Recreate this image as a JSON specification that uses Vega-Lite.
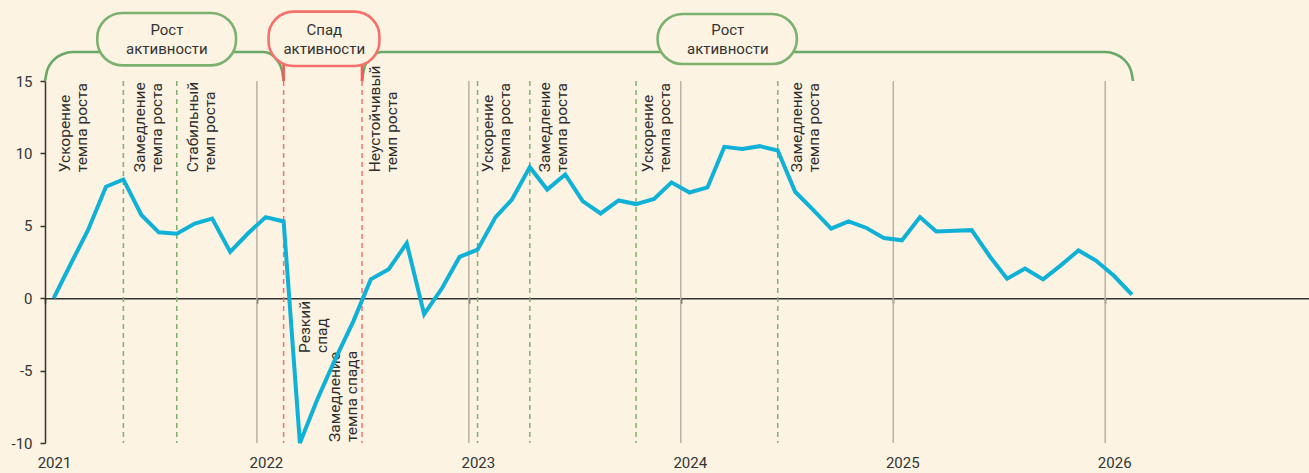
{
  "$schema": "https://vega.github.io/schema/vega-lite/v6.json",
  "width": 1264,
  "height": 362,
  "autosize": {"type": "none"},
  "padding": {"left": 45, "top": 81, "right": 0, "bottom": 30},
  "background": "#fdf3e2",
  "config": {"view": {"stroke": null}, "font": "Roboto"},
  "datasets": {
    "series": [
      {"d": "2021-01-16", "v": 0.0}, {"d": "2021-02-16", "v": 2.5}, {"d": "2021-03-16", "v": 4.7},
      {"d": "2021-04-16", "v": 7.7}, {"d": "2021-05-16", "v": 8.2}, {"d": "2021-06-16", "v": 5.75},
      {"d": "2021-07-16", "v": 4.55}, {"d": "2021-08-16", "v": 4.45}, {"d": "2021-09-16", "v": 5.15},
      {"d": "2021-10-16", "v": 5.5}, {"d": "2021-11-16", "v": 3.2}, {"d": "2021-12-16", "v": 4.45},
      {"d": "2022-01-16", "v": 5.6}, {"d": "2022-02-16", "v": 5.3}, {"d": "2022-03-16", "v": -10.0},
      {"d": "2022-04-16", "v": -6.9}, {"d": "2022-05-16", "v": -4.2}, {"d": "2022-06-16", "v": -1.6},
      {"d": "2022-07-16", "v": 1.3}, {"d": "2022-08-16", "v": 2.0}, {"d": "2022-09-16", "v": 3.8},
      {"d": "2022-10-16", "v": -1.1}, {"d": "2022-11-16", "v": 0.7}, {"d": "2022-12-16", "v": 2.85},
      {"d": "2023-01-16", "v": 3.35}, {"d": "2023-02-16", "v": 5.6}, {"d": "2023-03-16", "v": 6.8},
      {"d": "2023-04-16", "v": 9.05}, {"d": "2023-05-16", "v": 7.5}, {"d": "2023-06-16", "v": 8.55},
      {"d": "2023-07-16", "v": 6.7}, {"d": "2023-08-16", "v": 5.85}, {"d": "2023-09-16", "v": 6.75},
      {"d": "2023-10-16", "v": 6.5}, {"d": "2023-11-16", "v": 6.85}, {"d": "2023-12-16", "v": 8.0},
      {"d": "2024-01-16", "v": 7.3}, {"d": "2024-02-16", "v": 7.65}, {"d": "2024-03-16", "v": 10.45},
      {"d": "2024-04-16", "v": 10.3}, {"d": "2024-05-16", "v": 10.5}, {"d": "2024-06-16", "v": 10.2},
      {"d": "2024-07-16", "v": 7.35}, {"d": "2024-08-16", "v": 6.1}, {"d": "2024-09-16", "v": 4.8},
      {"d": "2024-10-16", "v": 5.3}, {"d": "2024-11-16", "v": 4.85}, {"d": "2024-12-16", "v": 4.15},
      {"d": "2025-01-16", "v": 4.0}, {"d": "2025-02-16", "v": 5.6}, {"d": "2025-03-16", "v": 4.6},
      {"d": "2025-04-16", "v": 4.65}, {"d": "2025-05-16", "v": 4.7}, {"d": "2025-06-16", "v": 2.9},
      {"d": "2025-07-16", "v": 1.35}, {"d": "2025-08-16", "v": 2.05}, {"d": "2025-09-16", "v": 1.3},
      {"d": "2025-10-16", "v": 2.25}, {"d": "2025-11-16", "v": 3.3}, {"d": "2025-12-16", "v": 2.6},
      {"d": "2026-01-16", "v": 1.55}, {"d": "2026-02-16", "v": 0.25}
    ],
    "years": [{"d": "2022-01-01"}, {"d": "2023-01-01"}, {"d": "2024-01-01"}, {"d": "2025-01-01"}, {"d": "2026-01-01"}],
    "phases": [
      {"d": "2021-05-16", "kind": "g"}, {"d": "2021-08-16", "kind": "g"},
      {"d": "2022-02-16", "kind": "r"}, {"d": "2022-07-01", "kind": "r"},
      {"d": "2023-01-16", "kind": "g"}, {"d": "2023-04-16", "kind": "g"},
      {"d": "2023-10-16", "kind": "g"}, {"d": "2024-06-16", "kind": "g"}
    ],
    "brackets": [
      {"seg": "g1", "d": "2021-01-01", "v": 15}, {"seg": "g1", "d": "2021-01-05", "v": 15.767},
      {"seg": "g1", "d": "2021-01-15", "v": 16.416}, {"seg": "g1", "d": "2021-01-31", "v": 16.851},
      {"seg": "g1", "d": "2021-02-18", "v": 17.003}, {"seg": "g1", "d": "2022-01-12", "v": 17.003},
      {"seg": "g1", "d": "2022-01-25", "v": 16.851}, {"seg": "g1", "d": "2022-02-05", "v": 16.416},
      {"seg": "g1", "d": "2022-02-13", "v": 15.767}, {"seg": "g1", "d": "2022-02-16", "v": 15},
      {"seg": "g2", "d": "2022-07-01", "v": 15}, {"seg": "g2", "d": "2022-07-04", "v": 15.767},
      {"seg": "g2", "d": "2022-07-11", "v": 16.416}, {"seg": "g2", "d": "2022-07-22", "v": 16.851},
      {"seg": "g2", "d": "2022-08-04", "v": 17.003}, {"seg": "g2", "d": "2026-01-01", "v": 17.003},
      {"seg": "g2", "d": "2026-01-19", "v": 16.851}, {"seg": "g2", "d": "2026-02-04", "v": 16.416},
      {"seg": "g2", "d": "2026-02-14", "v": 15.767}, {"seg": "g2", "d": "2026-02-18", "v": 15}
    ],
    "legs": [
      {"seg": "a", "d": "2022-02-16", "v": 16.2}, {"seg": "a", "d": "2022-02-16", "v": 15},
      {"seg": "b", "d": "2022-07-01", "v": 16.2}, {"seg": "b", "d": "2022-07-01", "v": 15}
    ],
    "boxes": [
      {"kind": "g", "d1": "2021-04-01", "d2": "2021-11-26", "v1": 19.7, "v2": 16.08, "d": "2021-07-30", "v": 18.49, "t": ["Рост", "активности"]},
      {"kind": "r", "d1": "2022-01-21", "d2": "2022-07-31", "v1": 19.79, "v2": 16.04, "d": "2022-04-27", "v": 18.49, "t": ["Спад", "активности"]},
      {"kind": "g", "d1": "2023-11-22", "d2": "2024-07-19", "v1": 19.63, "v2": 16.17, "d": "2024-03-22", "v": 18.49, "t": ["Рост", "активности"]}
    ],
    "labels": [
      {"d": "2021-02-04", "v": 8.7, "t": ["Ускорение", "темпа роста"]},
      {"d": "2021-06-14", "v": 8.7, "t": ["Замедление", "темпа роста"]},
      {"d": "2021-09-13", "v": 8.7, "t": ["Стабильный", "темп роста"]},
      {"d": "2022-07-23", "v": 8.7, "t": ["Неустойчивый", "темп роста"]},
      {"d": "2023-02-03", "v": 8.7, "t": ["Ускорение", "темпа роста"]},
      {"d": "2023-05-12", "v": 8.7, "t": ["Замедление", "темпа роста"]},
      {"d": "2023-11-06", "v": 8.7, "t": ["Ускорение", "темпа роста"]},
      {"d": "2024-07-19", "v": 8.7, "t": ["Замедление", "темпа роста"]},
      {"d": "2022-03-25", "v": -3.78, "t": ["Резкий", "спад"]},
      {"d": "2022-05-16", "v": -9.93, "t": ["Замедление", "темпа спада"]}
    ]
  },
  "layer": [
    {
      "data": {"name": "series"},
      "mark": {"type": "line", "color": "#0fb1d6", "strokeWidth": 4, "opacity": 0},
      "encoding": {
        "x": {
          "field": "d", "type": "temporal",
          "scale": {"type": "utc", "nice": false, "domain": [{"year": 2021, "month": 1, "date": 1, "utc": true}, {"year": 2026, "month": 12, "date": 18, "utc": true}]},
          "axis": {
            "title": null,
            "values": [
              {"year": 2021, "month": 1, "date": 1, "utc": true}, {"year": 2022, "month": 1, "date": 1, "utc": true},
              {"year": 2023, "month": 1, "date": 1, "utc": true}, {"year": 2024, "month": 1, "date": 1, "utc": true},
              {"year": 2025, "month": 1, "date": 1, "utc": true}, {"year": 2026, "month": 1, "date": 1, "utc": true}
            ],
            "labelExpr": "utcFormat(datum.value, '%Y')",
            "offset": -144.8, "tickSize": 5, "tickWidth": 1.5, "tickColor": "#333333",
            "domainColor": "#333333", "domainWidth": 1.5,
            "labelPadding": 152, "labelFontSize": 15, "labelColor": "#333333", "labelOffset": 9,
            "labelFlush": false, "labelOverlap": false, "grid": false
          }
        },
        "y": {
          "field": "v", "type": "quantitative",
          "scale": {"domain": [-10, 15], "nice": false, "zero": false},
          "axis": {
            "title": null, "values": [-10, -5, 0, 5, 10, 15], "labelExpr": "'' + datum.value",
            "tickSize": 5, "tickWidth": 1.5, "tickColor": "#333333", "domainColor": "#333333", "domainWidth": 1.5,
            "labelPadding": 8, "labelFontSize": 15, "labelColor": "#333333", "grid": false
          }
        }
      }
    },
    {
      "data": {"name": "years"},
      "mark": {"type": "rule", "color": "#b8b1a7", "strokeWidth": 1.5},
      "encoding": {"x": {"field": "d", "type": "temporal"}}
    },
    {
      "data": {"name": "phases"},
      "mark": {"type": "rule", "strokeWidth": 1.5, "strokeDash": [5, 4]},
      "encoding": {
        "x": {"field": "d", "type": "temporal"},
        "stroke": {"field": "kind", "type": "nominal", "scale": {"domain": ["g", "r"], "range": ["#7cb16e", "#f6706a"]}, "legend": null}
      }
    },
    {
      "data": {"name": "brackets"},
      "mark": {"type": "line", "interpolate": "monotone", "color": "#6aa865", "strokeWidth": 2.6},
      "encoding": {
        "x": {"field": "d", "type": "temporal"},
        "y": {"field": "v", "type": "quantitative"},
        "detail": {"field": "seg", "type": "nominal"}
      }
    },
    {
      "data": {"name": "legs"},
      "mark": {"type": "line", "color": "#f35c54", "strokeWidth": 2.6},
      "encoding": {
        "x": {"field": "d", "type": "temporal"},
        "y": {"field": "v", "type": "quantitative"},
        "detail": {"field": "seg", "type": "nominal"}
      }
    },
    {
      "data": {"name": "boxes"},
      "mark": {"type": "rect", "fill": "#fdf3e2", "strokeWidth": 2.6, "cornerRadius": 25},
      "encoding": {
        "x": {"field": "d1", "type": "temporal"}, "x2": {"field": "d2"},
        "y": {"field": "v1", "type": "quantitative"}, "y2": {"field": "v2"},
        "stroke": {"field": "kind", "type": "nominal", "legend": null}
      }
    },
    {
      "data": {"name": "boxes"},
      "mark": {"type": "text", "align": "center", "baseline": "middle", "fontSize": 15, "lineHeight": 19, "color": "#333333"},
      "encoding": {
        "x": {"field": "d", "type": "temporal"},
        "y": {"field": "v", "type": "quantitative"},
        "text": {"field": "t"}
      }
    },
    {
      "data": {"name": "labels"},
      "mark": {"type": "text", "angle": 270, "align": "left", "baseline": "middle", "fontSize": 15.5, "lineHeight": 17, "color": "#2d2d2d"},
      "encoding": {
        "x": {"field": "d", "type": "temporal"},
        "y": {"field": "v", "type": "quantitative"},
        "text": {"field": "t"}
      }
    },
    {
      "data": {"name": "series"},
      "mark": {"type": "line", "color": "#0fb1d6", "strokeWidth": 4},
      "encoding": {
        "x": {"field": "d", "type": "temporal"},
        "y": {"field": "v", "type": "quantitative"}
      }
    }
  ]
}
